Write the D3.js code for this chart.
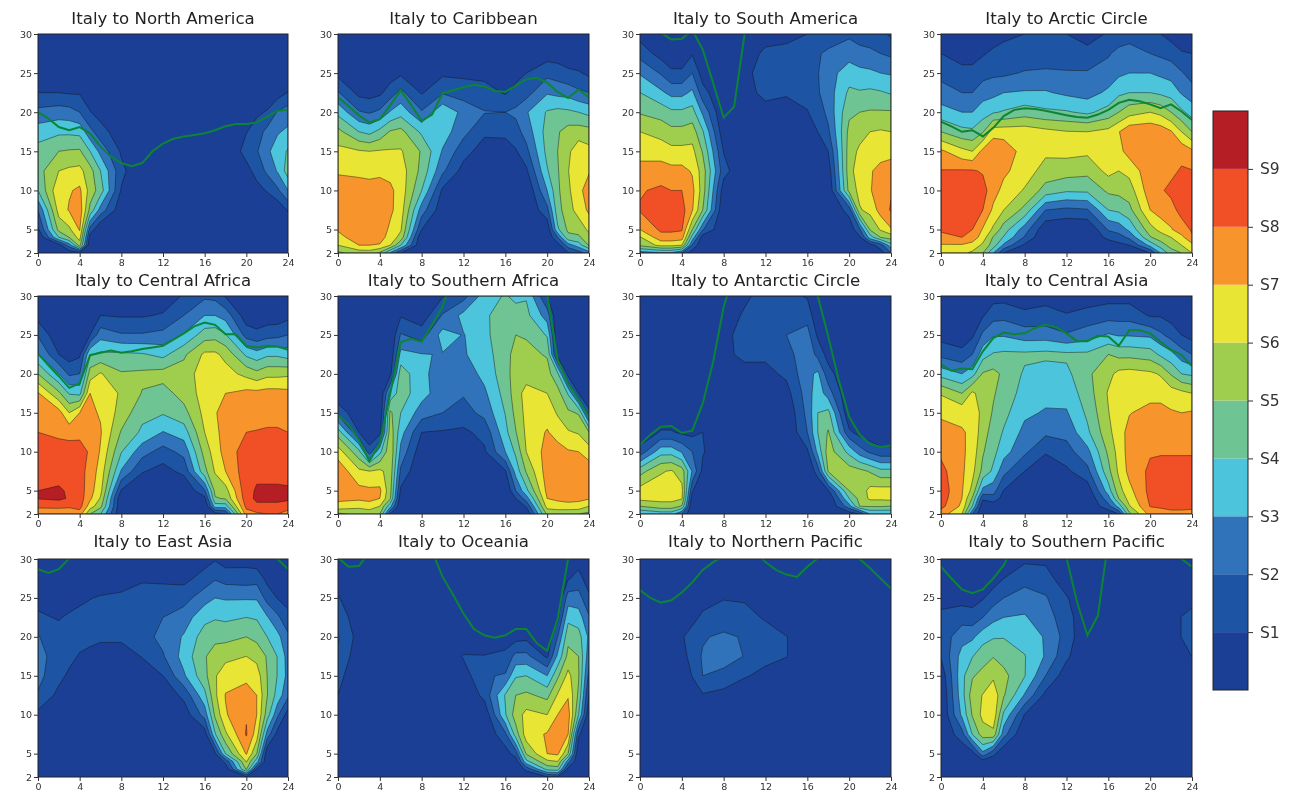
<!DOCTYPE html>
<meta charset="utf-8">
<head>
    <title>Italy HF coverage</title>
    <script src="https://d3js.org/d3.v7.min.js"></script>
    <style>
        body { margin: 0; background: #fff; }
        text { font-family: "DejaVu Sans", sans-serif; }
        .tick text { fill: #333; }
        svg { filter: blur(0.3px); }
    </style>
</head>
<body>
<div id="chart"></div>
<script>
// grid the S values were read on: one array per hour, bottom (2 MHz) to top (30 MHz)
var hours = [0,2,3,4,5,6,8,10,12,14,16,17,18,20,21,22,23,24];
var freqs = [2,3,4,5,7.5,10,12.5,15,17.5,20,22.5,25,27.5,30];
var hourTicks = [0,4,8,12,16,20,24];
var freqTicks = [2,5,10,15,20,25,30];
var sLevels = [1,2,3,4,5,6,7,8,9];
var sLabels = ["S1","S2","S3","S4","S5","S6","S7","S8","S9"];
var bandColors = ["#1c3f96","#1d55a4","#3073ba","#4bc4dc","#6ec492","#9fcd4e","#e9e535","#f7942b","#f15027","#b61e25"];
var titles = ["Italy to North America","Italy to Caribbean","Italy to South America","Italy to Arctic Circle",
    "Italy to Central Africa","Italy to Southern Africa","Italy to Antarctic Circle","Italy to Central Asia",
    "Italy to East Asia","Italy to Oceania","Italy to Northern Pacific","Italy to Southern Pacific"];
var none = [0,0,0,0,0,0,0,0,0,0,0,0,0,0];

var northAmerica = [
[0,0,0,.8,2,4,4.6,4.4,3.5,2.3,1,.4,0,0],
[0,.6,4,5.3,6.4,6.8,6,5,3.8,2.5,1,.4,0,0],
[.3,2.5,5,5.8,7.1,6.9,6.2,5.1,3.8,2.4,.9,.3,0,0],
[.6,5.4,6.4,7.1,7.6,7.2,6.3,5.15,3.7,2,.9,.3,0,0],
[0,0,.5,1.6,4.7,5.6,5.4,4,2.3,1.05,.5,.2,0,0],
[0,0,0,0,2.6,4.5,4,2.7,1.4,.6,.2,0,0,0],
[0,0,0,0,.3,.9,1.3,.85,.4,0,0,0,0,0],
none,none,none,none,none,none,
[0,0,0,0,0,.2,.6,1.4,.95,.3,0,0,0,0],
[0,0,0,0,0,.6,1.4,1.9,1.5,.8,.2,0,0,0],
[0,0,0,0,0,1.1,2.2,2.8,2.3,1.1,.2,0,0,0],
[0,0,0,0,.2,1.8,3.1,3.5,2.9,2.1,.5,.1,0,0],
[0,0,0,0,1.1,3,4.5,4.1,3.2,2.5,1.05,.4,0,0]];
var mufNorthAmerica = [20,19.2,18.1,17.7,18.1,17.3,15.6,14.3,13.5,13.1,13.5,15,16,16.6,16.9,17.1,17.3,17.7,18.2,18.5,18.5,18.7,19.4,20.2,20.3];

var caribbean = [
[4.8,6,6.7,7.1,7.4,7.4,6.9,6.3,5.3,3.7,2.1,.7,.3,0],
[5.4,7,7.5,7.6,7.6,7.4,6.8,6.1,4,2.1,.7,.2,0,0],
[5.5,7,7.4,7.5,7.6,7.4,6.7,6,3.7,1.9,.6,.2,0,0],
[4.8,6.9,7.5,7.6,7.6,7.4,6.8,6.1,4.3,2.2,.8,.2,0,0],
[2.8,6,6.5,6.8,7.2,7.2,6.7,6.1,5.1,3.1,1.5,.5,.2,0],
[1,4,5.7,6.1,6.5,6.6,6.5,6.1,5.3,3.6,2.3,.8,.2,0],
[0,0,0,1,2.5,4,4.7,4.9,3.8,2.1,.9,.3,0,0],
[0,0,0,0,.3,.8,2.2,2.9,3.5,3.8,1.9,.8,.2,0],
[0,0,0,0,0,0,.6,1.4,2.3,2.7,1.5,.8,.2,0],
[0,0,0,0,0,0,0,.5,1.2,2.05,1.4,.7,.2,0],
[0,0,0,0,0,0,.1,.6,1.2,2,.9,.4,.1,0],
[0,0,0,0,0,0,0,.9,1.6,2.2,1.4,.6,.2,0],
[0,0,0,0,0,0,.8,1.7,2.4,2.9,1.6,1,.3,0],
[0,0,0,.2,1.7,3,3.9,4.3,4.4,4.1,2.9,1.7,.5,0],
[0,.5,2,3.8,4.6,4.8,4.9,5,4.9,4.3,2.7,1.5,.5,0],
[.9,2.5,4.7,5.2,5.6,5.8,5.95,5.8,5.4,4.2,2.6,1.2,.4,0],
[1.5,3.5,4.8,5.4,6.4,6.7,6.9,6.6,5.5,4,2.2,1.1,.3,0],
[2.5,5.1,5.7,6.2,7.2,7.5,6.9,6.3,5.4,3.7,2,.8,.3,0]];
var mufCaribbean = [21.9,20.8,19.6,18.7,19.1,20.9,22.8,20.9,18.9,19.7,22.4,22.8,23.2,23.5,23.3,22.7,22.6,23.4,24.2,24.4,23.8,22.6,21.8,22.9,21.9];

var southAmerica = [
[2.5,5.2,5.9,7,8.1,7.9,7.3,6.7,6,4.9,4,2.9,1.6,.6],
[2.8,6.3,7.6,8.2,8.6,8.2,7.4,6.6,5.6,4.6,3.2,1.9,.6,0],
[2.8,6.3,7.6,8.2,8.6,8,7.3,6.3,5.3,4.2,2.7,1.2,.3,0],
[2,6,7.5,8.1,8.4,8,7.3,6.3,5.3,4.2,2.7,1.2,.3,0],
[.4,1.9,3.6,5,7.1,7.3,6.9,6.3,5.5,4.4,3.2,2,.9,.3],
[0,0,.4,2.1,5,5.5,5.5,4.9,4.1,2.8,1.4,.5,.2,0],
[0,0,0,0,0,.4,1.4,.95,.3,0,0,0,0,0],
[0,0,0,0,0,0,0,0,0,.4,.6,.7,.5,.2],
[0,0,0,0,0,0,0,0,0,.6,1.3,1.5,1.2,.6],
[0,0,0,0,0,0,0,0,.2,.6,1.1,1.5,1.3,.7],
[0,0,0,0,0,0,0,.3,.6,.95,1.3,1.6,1.6,1],
[0,0,0,0,0,0,0,.6,1,1.4,1.9,1.95,1.9,1.2],
[0,0,0,0,0,0,.4,1,1.8,2.3,2.5,2.6,2.2,1.4],
[0,0,0,.3,1.4,5.3,5.6,5.5,5.3,4.8,4.2,3.5,2.6,1.8],
[0,0,.8,1.8,5.9,6.3,6.6,6.2,5.6,5,4.1,3.3,2.3,1.6],
[0,.6,3.5,5.1,6.3,6.9,6.9,6.6,6,5.1,4.2,3.2,2.2,1.5],
[.5,1.5,5,6.1,7.4,7.7,7.3,6.6,6.1,5.1,4.1,3,2,1.3],
[2,3.6,5.4,6.9,8.1,7.9,7.3,6.8,6,5.1,3.9,2.9,1.8,.8]];
var mufSouthAmerica = [33,32,30.2,29.3,29.4,30.5,28,23.7,19.3,20.7,30,33,33,33,33,33,33,33,33,33,33,33,33,33,33];

var arcticCircle = [
[6.4,6.9,7.8,8.1,8.4,8.5,8.05,7.2,5,3.4,2.4,1.7,1,.3],
[6.2,6.9,8,8.2,8.5,8.6,8.1,6.3,4.3,3,2,1.3,.6,.1],
[5.8,6.6,7.6,8,8.4,8.5,8.1,6,4.2,3,2,1.3,.6,.1],
[5,5.8,6.5,6.9,8,8.4,7.9,7.3,4.9,3.5,2.6,1.6,.9,.3],
[3,4.5,4.9,5.8,6.8,7.4,7.6,7.8,6.6,3.9,2.7,1.8,1.2,.5],
[1,2.8,3.9,4.5,6,6.7,7.2,7.6,6.6,4.1,3,1.8,1.3,.8],
[0,.8,1.9,2.5,4.7,5.9,6.5,6.6,6.6,4.5,3.1,2.1,1.3,1],
[0,0,0,.2,2,4.6,5.6,6.2,6.3,4.2,3.1,2.2,1.3,1],
[0,0,0,0,1.75,4.15,5.45,6.3,6.05,4.1,2.8,2.1,1.4,1],
[0,0,0,0,1.9,4.2,5.3,6.2,6,3.8,2.6,2.1,1.3,.6],
[0,.3,1.3,2.1,4,5.2,6.3,6.6,6.3,4.4,3.2,2.4,1.9,1.1],
[0,.7,1.6,2.4,4.2,5.3,6,6.7,6.95,5,3.8,2.8,2.3,1.4],
[0,1,2.2,3.2,4.7,5.5,6.3,7.4,7.7,5.6,4,3,2.4,1.6],
[1,3.3,4.9,5.6,7,7.6,7.7,7.8,7.8,6,4,3,2,1.1],
[3,4.5,5.5,6.3,7.5,7.9,7.9,7.9,7.6,5.7,3.8,2.8,1.8,1],
[4.5,5.4,6,6.9,7.7,8.2,7.8,7.8,7.1,5,3.6,2.6,1.6,.6],
[5,6,6.7,7.6,8.3,8.5,8.1,7.7,6,4.2,2.9,2.1,1.1,.3],
[6,6.7,7.9,8.1,8.4,8.5,8.05,7.2,5,3.6,2.4,1.6,1,.3]];
var mufArcticCircle = [18.8,18.2,17.5,17.7,16.9,18,19.5,20.3,20.5,20.4,20.2,19.9,19.6,19.4,19.3,19.7,20.3,21.2,21.6,21.4,21,20.5,21,20.1,19];

var centralAfrica = [
[7,8.3,9.05,9,8.7,8.5,8,7.4,7.1,5,3.1,1.9,.6,0],
[7.2,8.3,9.2,9.1,8.7,8.4,7.8,7.4,5.2,3,1,.2,0,0],
[7.2,8.2,8.9,8.9,8.6,8.4,7.7,6,3.9,1.8,.5,0,0,0],
[7.5,8.4,8.5,8.5,8.4,8.3,7.8,7,3.7,2,.8,.2,0,0],
[5,6.5,7.2,7.4,7.6,7.9,7.7,7.2,7,5.5,3.9,1,.3,0],
[4,5.3,5.9,6.3,6.6,6.9,7.1,6.9,6.5,6.1,4.2,2.6,1,.3],
[0,0,0,.9,2.9,4.05,4.9,5.6,5.9,5.1,4.2,2.1,.9,.3],
[0,0,0,0,1.1,2.4,3.8,4.3,4.95,5.2,4.1,2.1,.9,.3],
[0,0,0,0,.6,1.6,2.95,4.1,4.6,5.4,3.7,2.3,1.1,.4],
[0,0,0,0,1.3,2.3,3.5,4.65,5.4,5.5,4.8,3.1,2,1.1],
[0,0,.7,1.9,4.7,5.4,6,6.3,6.4,6.5,6.2,4.5,3,1.8],
[.5,3.5,4.9,5.3,6.1,6.5,6.7,6.9,6.8,6.6,6.2,4.6,3,1.7],
[1,3.5,5.1,5.6,7,7.4,7.5,7.5,7,6.4,5.7,4.1,2.6,.9],
[7.5,8.3,8.6,8.7,8.6,8.5,8,7.6,7.3,5.7,3.8,1.6,.4,0],
[7.8,8.8,9.2,9.1,8.8,8.6,8.05,7.6,7.3,5.3,3.4,1.3,.3,0],
[8,8.7,9.3,9.1,8.8,8.6,8.1,7.7,7.4,5.7,3.8,1.6,.4,0],
[8,8.7,9.3,9.1,8.8,8.6,8.1,7.7,7.4,5.7,3.8,1.7,.4,0],
[7.5,8.5,9.2,9.1,8.7,8.5,8,7.7,7.3,5.8,3.5,2,.7,0]];
var mufCentralAfrica = [22.6,21.1,19.7,18.2,18.8,22.4,22.7,23,22.7,22.9,23.2,23.4,23.6,24.4,25.2,26.1,26.6,26.3,25.1,25.1,23.6,23.4,23.6,23.5,23.1];

var southernAfrica = [
[4.8,6.7,7.2,7.4,7.7,6.5,4.5,1.6,.3,0,0,0,0,0],
[5.2,6.3,7.2,7.3,6.2,4.3,1,.3,0,0,0,0,0,0],
[5.5,6.4,7.4,7.2,6,1.4,.2,0,0,0,0,0,0,0],
[5,6,7,7.2,6.2,3.7,.6,.1,0,0,0,0,0,0],
[1,3.3,5.1,5.3,5.6,5.8,5.6,5.2,3.3,.7,.2,0,0,0],
[0,0,.3,.8,1.8,2.7,3.4,4,4.5,4.6,3.3,2.1,.9,.2],
[0,0,0,0,0,.3,1,2.5,3.4,3.2,3.05,1.5,.4,0],
[0,0,0,0,0,.3,.9,2,2.4,2.6,2.95,3.4,2.1,.9],
[0,0,0,0,0,.3,.8,1.6,2.1,2.4,2.9,2.95,3.3,1.6],
[0,0,0,0,.3,.85,1.3,2.3,2.8,3.3,3.5,3.7,3.8,3.5],
[0,0,0,0,.9,3,3.7,4.05,4.4,4.6,4.7,4.8,4.6,4.1],
[0,.2,1,2,3.4,4.2,4.95,5.3,5.5,5.5,5.3,5,4.5,3.7],
[0,1.1,2.5,3.7,5.1,6,6.2,6.3,6.4,5.5,5.3,4.9,4.3,3.9],
[5.2,6.4,7,7.3,7.5,7.4,7.1,6.5,6,5.4,4.9,3.9,2.5,1],
[5.5,6.4,7.3,7.5,7.8,7.5,6.5,5.9,5.4,4.2,.5,0,0,0],
[5,6.8,7.2,7.3,7.5,7.1,6.1,5.2,3.9,.6,0,0,0,0],
[5,6.7,7.2,7.3,7.5,7,5.9,4.9,1,.3,0,0,0,0],
[4.7,6,7.1,7.3,7.6,6.5,5,1.2,.3,0,0,0,0,0]];
var mufSouthernAfrica = [14.7,13.5,11.5,8.8,11.1,17.5,24.1,24.5,24.1,26.3,28.6,33,33,33,33,33,33,33,33,33,30.2,21.8,18.8,16.7,14.5];

var antarcticCircle = [
[3,5,6.3,6.4,4.6,1.4,.2,0,0,0,0,0,0,0],
[3.4,5.6,6.3,6.5,5.9,3.6,1.1,.2,0,0,0,0,0,0],
[3.4,5.6,6.3,6.5,6.1,3.6,1.1,.2,0,0,0,0,0,0],
[2,4.9,6.1,6.3,5.5,2.9,.8,0,0,0,0,0,0,0],
[0,0,.4,1.1,2.9,2,.7,.2,0,0,0,0,0,0],
[0,0,0,0,.7,1.1,1,.1,0,0,0,0,0,0],
[0,0,0,0,0,0,0,0,0,.3,.8,.7,.2,0],
[0,0,0,0,0,0,0,0,0,.7,1.2,1.4,1.2,.7],
[0,0,0,0,0,0,0,0,.3,.7,1.2,1.5,1.7,1.6],
[0,0,0,0,0,0,0,.1,.6,1.2,1.6,2,1.7,1.3],
[0,0,0,0,0,.8,2,2.3,2.5,2.7,2.7,2.4,1.6,.9],
[0,0,0,0,1.5,3.3,4,4,3.6,3.2,1.7,.8,.2,0],
[0,0,0,.9,5.1,5.5,5.1,4.3,2.5,1.4,.6,.2,0,0],
[.4,2.6,4,5,5.5,3.7,1.2,.1,0,0,0,0,0,0],
[1,5,5.3,5.4,5.3,2.5,.6,0,0,0,0,0,0,0],
[3,5.1,6.2,6.3,4.9,1.8,.3,0,0,0,0,0,0,0],
[3,5.1,6.2,6.4,4.3,1.3,.2,0,0,0,0,0,0,0],
[3,5,6.3,6.4,4.3,1.3,.2,0,0,0,0,0,0,0]];
var mufAntarcticCircle = [10.9,12.2,13.2,13.3,12.4,12.7,16.2,21.6,28.6,33,33,33,33,33,33,33,33,30,24.8,19.2,14.5,12.2,11,10.6,10.8];

var centralAsia = [
[7.5,8.3,8.5,8.6,8.3,7.8,7.2,6.9,5.9,3.6,1.7,.6,.2,0],
[6,6.8,7,7.1,7.2,7.2,7.1,6.7,5,3,1.3,.4,0,0],
[2,4,4.9,5.7,6.3,6.6,6.8,6.8,6.2,3.6,2,.8,.2,0],
[0,.2,1.2,2.7,4.7,5.1,5.4,5.6,5.5,5.1,3.6,2.2,.9,.3],
[0,.3,1.6,2.4,3.8,4.3,4.6,4.9,5.1,5.3,4.1,2.9,1.6,.6],
[0,0,.6,.95,2.3,3.4,3.9,4.3,4.6,4.8,4.2,2.9,1.7,.6],
[0,0,0,0,1,2.2,2.7,3.2,3.6,3.85,4.2,2.5,1.3,.3],
[0,0,0,0,.2,1.1,2.2,2.9,3.3,3.4,4.3,2.5,1.4,.6],
[0,0,0,0,.8,1.6,2.3,2.9,3.4,3.75,4.2,2.1,1.1,.2],
[0,0,0,.4,1.7,2.7,3.8,4.2,4.5,4.8,4.2,2.5,1.4,.4],
[.2,1.7,2.6,3.5,4.7,5.2,5.7,5.95,6.1,5.7,5,3.1,1.6,.6],
[1,3.4,5,5.6,6.2,6.4,6.6,6.7,6.7,6.3,4.7,2.9,1.6,.6],
[4.7,5.9,6.4,6.7,7.3,7.4,7.3,6.95,6.8,6.4,4.7,2.9,1.6,.6],
[7.4,8.05,8.2,8.3,8.2,7.9,7.6,7.3,6.7,6.2,4.5,2.8,.9,.2],
[7.7,8.1,8.4,8.5,8.4,7.9,7.6,7.3,6.7,5.9,3.8,2.2,.9,.2],
[7.8,8.2,8.5,8.5,8.4,7.9,7.4,7.1,6.5,4.9,3.3,1.6,.6,0],
[7.8,8.2,8.5,8.5,8.4,7.9,7.4,7,6.3,4,2.5,1,.4,0],
[7.7,8.2,8.4,8.5,8.4,7.9,7.3,7.1,6,3.8,2,.6,.2,0]];
var mufCentralAsia = [21.2,20.4,20.7,20.6,22.9,24.6,25.3,25.1,25.2,25.9,26.3,26,25.2,24.2,24.2,24.9,24.8,23.6,25.6,25.6,25.2,24.1,23.1,22.4,21];

var eastAsia = [
[0,0,0,0,0,.7,1.9,2.3,2.3,2.05,1.2,.6,.2,0],
[0,0,0,0,0,0,.7,1.3,1.6,1.5,.9,.3,0,0],
[0,0,0,0,0,0,.2,.8,1.3,1.5,1.2,.4,0,0],
[0,0,0,0,0,0,0,.2,.9,1.4,1.4,.7,.2,0],
[0,0,0,0,0,0,0,0,.7,1.3,1.5,.95,.4,0],
[0,0,0,0,0,0,0,0,.5,1.2,1.5,1.1,.3,0],
[0,0,0,0,0,0,0,0,.5,1.2,1.6,1.3,.3,0],
[0,0,0,0,0,0,0,.4,1.05,1.6,1.8,1.5,.85,.2],
[0,0,0,0,0,0,.3,1,1.9,2.3,2,1.5,.8,.3],
[0,0,0,0,0,.4,1.25,2.85,3.4,3.1,2.5,1.6,.7,0],
[0,0,0,0,.4,2.4,3.7,4.7,4.9,4.5,3.7,2.6,1.4,.6],
[0,0,0,.8,3.9,5.2,5.8,5.9,5.5,4.7,3.9,3,1.9,.9],
[0,.3,1.3,4,5.8,6.9,7.05,6.6,5.7,4.7,3.8,2.9,1.6,.5],
[.8,5.1,6.1,7.1,8.1,7.9,7.5,6.7,6,5,4,2.9,1.5,.6],
[0,.9,3.4,5,6.5,7,7,6.5,5.7,4.7,3.9,2.9,1.6,.4],
[0,0,0,.1,2.6,4.5,5.05,5,4.9,4,3.1,1.6,.7,.2],
[0,0,0,0,.6,2.2,3.6,3.95,3.95,3.3,2.2,.95,.4,0],
[0,0,0,0,0,.5,2.2,2.7,2.6,2.2,1.3,.6,.2,0]];
var mufEastAsia = [28.7,28.2,28.7,30.1,33,33,33,33,33,33,33,33,33,33,33,33,33,33,33,33,33,33,33,30,28.7];

var oceania = [
[0,0,0,0,0,0,1,1.4,1.8,2.1,1.5,1.1,.4,0],
[0,0,0,0,0,0,0,0,.4,.6,.5,0,0,0],
none,none,none,none,none,none,
[0,0,0,0,0,0,0,.5,1.1,0,0,0,0,0],
[0,0,0,0,0,.2,1.3,1.9,1.05,.2,0,0,0,0],
[0,0,0,.5,1.8,3.9,4.1,2.1,1.3,.4,0,0,0,0],
[0,0,.4,1.5,4.5,5.5,5,3.9,2.3,.6,0,0,0,0],
[0,1.3,3.7,5.1,6.5,6.3,5.2,4,2.3,.7,0,0,0,0],
[.9,4.3,5.8,7,7.1,6,4.7,3,.8,.2,0,0,0,0],
[1,4.5,6,7.2,7.7,7,6.1,4.8,3.2,2,.7,0,0,0],
[0,.6,2.5,5,7.05,7.5,6.9,6.3,5.3,4.7,3.7,2.5,.9,0],
[0,0,0,0,1.2,4,4.8,5.1,5,4.4,3.5,2.4,1.4,.5],
[0,0,0,0,0,.2,.9,1.7,2.4,2.8,2.1,1.2,.4,0]];
var mufOceania = [30.2,29,29.1,30.9,33,33,33,33,33,31,27.7,25.4,23,21,20.2,19.9,20.2,21,21,19.2,18.2,22.3,30,33,33];

var northernPacific = [
none,none,none,
[0,0,0,0,0,0,0,0,.5,.9,.2,0,0,0],
[0,0,0,0,0,0,.2,1.05,1.5,1.4,.7,.1,0,0],
[0,0,0,0,0,0,.9,2,2.1,1.9,1.2,.6,.1,0],
[0,0,0,0,0,0,.7,1.6,2.6,2.2,1.4,.95,.3,0],
[0,0,0,0,0,0,.2,1.1,1.95,1.9,1.3,.9,.2,0],
[0,0,0,0,0,0,0,.7,1.3,1.4,.9,.2,0,0],
[0,0,0,0,0,0,0,0,1.05,1.05,0,0,0,0],
none,none,none,none,none,none,none,none];
var mufNorthernPacific = [26,25,24.4,24.7,25.7,27,28.6,29.6,30.4,31,31,31,29.6,28.6,28,27.7,29,30.1,31,31,31,30,28.8,27.5,26.2];

var southernPacific = [
[0,0,0,0,0,0,0,.3,1.05,1.4,1.2,.7,.2,0],
[0,0,0,.2,1.6,3.2,3.6,3.7,3.4,2.6,1.6,.6,.2,0],
[0,0,0,.5,4.05,5.1,5.5,4.9,3.95,2.8,1.4,.6,.2,0],
[0,0,.5,2.7,5.5,6.3,6.05,5.3,4.6,3.6,2,.9,.2,0],
[0,0,.3,1.3,5.7,6.7,6.7,5.8,4.95,3.9,2.7,1.5,.5,0],
[0,0,0,.1,2.4,3.8,5.1,5.3,4.6,3.95,3,2,1,.3],
[0,0,0,0,0,.95,2.9,4.05,4.05,3.6,3.1,2.5,1.6,.8],
[0,0,0,0,0,0,.7,2,2.9,2.9,2.4,2.1,1.4,.8],
[0,0,0,0,0,0,0,.4,1.2,1.6,1.5,1.1,.4,0],
none,none,none,none,none,none,none,
[0,0,0,0,0,0,0,0,0,1.05,1.05,0,0,0],
[0,0,0,0,0,0,0,0,1.03,1.5,1.3,.7,0,0]];
var mufSouthernPacific = [29,27.5,26.1,25.6,26.1,27.5,29.2,32,32,32,32,31.5,30.2,24.5,20.2,22.7,32.4,34,34,34,34,34,34,30,29];

var panelData = [northAmerica,caribbean,southAmerica,arcticCircle,centralAfrica,southernAfrica,
    antarcticCircle,centralAsia,eastAsia,oceania,northernPacific,southernPacific];
var panelMuf = [mufNorthAmerica,mufCaribbean,mufSouthAmerica,mufArcticCircle,mufCentralAfrica,mufSouthernAfrica,
    mufAntarcticCircle,mufCentralAsia,mufEastAsia,mufOceania,mufNorthernPacific,mufSouthernPacific];

var width = 1293, height = 799;
var colX = [[38,288],[338,589],[640,891],[941,1192]];
var rowY = [[34,253],[296,514],[559,777]];
var titleY = [24,286,547];

var svg = d3.select("#chart").append("svg")
    .attr("width", width)
    .attr("height", height)
    .style("display", "block");

panelData.forEach(function(columns, p) {
    var xr = colX[p % 4], yr = rowY[Math.floor(p / 4)];
    var x = d3.scaleLinear().domain([0, 24]).range(xr);
    var y = d3.scaleLinear().domain([2, 30]).range([yr[1], yr[0]]);

    // d3.contours works in grid indices, map those back to hours and MHz
    var xIdx = d3.scaleLinear().domain(d3.range(hours.length)).range(hours.map(function(h) { return x(h); })).clamp(true);
    var yIdx = d3.scaleLinear().domain(d3.range(freqs.length)).range(freqs.map(function(f) { return y(f); })).clamp(true);
    var path = d3.geoPath(d3.geoTransform({
        point: function(a, b) { this.stream.point(xIdx(a - 0.5), yIdx(b - 0.5)); }
    }));

    var flat = [];
    freqs.forEach(function(f, j) {
        columns.forEach(function(col) { flat.push(col[j]); });
    });
    var bands = d3.contours().size([hours.length, freqs.length]).thresholds(sLevels)(flat);

    var g = svg.append("g");
    var clipId = "clip" + p;
    g.append("clipPath").attr("id", clipId).append("rect")
        .attr("x", xr[0]).attr("y", yr[0])
        .attr("width", xr[1] - xr[0]).attr("height", yr[1] - yr[0]);

    var plot = g.append("g").attr("clip-path", "url(#" + clipId + ")");
    plot.append("rect")
        .attr("x", xr[0]).attr("y", yr[0])
        .attr("width", xr[1] - xr[0]).attr("height", yr[1] - yr[0])
        .attr("fill", bandColors[0]);

    plot.selectAll("path.band")
        .data(bands)
        .enter().append("path")
        .attr("class", "band")
        .attr("d", path)
        .attr("fill", function(d, i) { return bandColors[i + 1]; })
        .attr("stroke", "#111")
        .attr("stroke-opacity", 0.75)
        .attr("stroke-width", 0.6);

    var line = d3.line()
        .x(function(d, i) { return x(i); })
        .y(function(d) { return y(d); });
    plot.append("path")
        .datum(panelMuf[p])
        .attr("d", line)
        .attr("fill", "none")
        .attr("stroke", "#0b8436")
        .attr("stroke-width", 2);

    // frame + axes
    g.append("rect")
        .attr("x", xr[0]).attr("y", yr[0])
        .attr("width", xr[1] - xr[0]).attr("height", yr[1] - yr[0])
        .attr("fill", "none")
        .attr("stroke", "#222")
        .attr("stroke-width", 1);

    g.append("g")
        .attr("transform", "translate(0," + yr[1] + ")")
        .call(d3.axisBottom(x).tickValues(hourTicks).tickSize(4).tickPadding(2).tickSizeOuter(0))
        .call(styleAxis);
    g.append("g")
        .attr("transform", "translate(" + xr[0] + ",0)")
        .call(d3.axisLeft(y).tickValues(freqTicks).tickSize(4).tickPadding(2).tickSizeOuter(0))
        .call(styleAxis);

    g.append("text")
        .attr("x", (xr[0] + xr[1]) / 2)
        .attr("y", titleY[Math.floor(p / 4)])
        .attr("text-anchor", "middle")
        .attr("font-size", 16.6)
        .attr("fill", "#222")
        .text(titles[p]);
});

function styleAxis(sel) {
    sel.select(".domain").remove();
    sel.selectAll("text").attr("font-size", 9.5).attr("font-family", "DejaVu Sans");
    sel.selectAll("line").attr("stroke", "#333");
}

// colorbar
var barScale = d3.scaleLinear().domain([0, 10]).range([690, 111]);
svg.append("g").selectAll("rect")
    .data(bandColors)
    .enter().append("rect")
    .attr("x", 1213)
    .attr("width", 35)
    .attr("y", function(d, i) { return barScale(i + 1); })
    .attr("height", function(d, i) { return barScale(i) - barScale(i + 1); })
    .attr("fill", function(d) { return d; });
svg.append("rect")
    .attr("x", 1213).attr("y", 111).attr("width", 35).attr("height", 579)
    .attr("fill", "none").attr("stroke", "#222").attr("stroke-width", 1);
svg.append("g")
    .attr("transform", "translate(1248,0)")
    .call(d3.axisRight(barScale).tickValues(sLevels)
        .tickFormat(function(d, i) { return sLabels[i]; })
        .tickSize(5).tickPadding(7).tickSizeOuter(0))
    .call(function(sel) {
        sel.select(".domain").remove();
        sel.selectAll("text").attr("font-size", 15.5).attr("font-family", "DejaVu Sans");
        sel.selectAll("line").attr("stroke", "#333");
    });
</script>
</body>
</html>
